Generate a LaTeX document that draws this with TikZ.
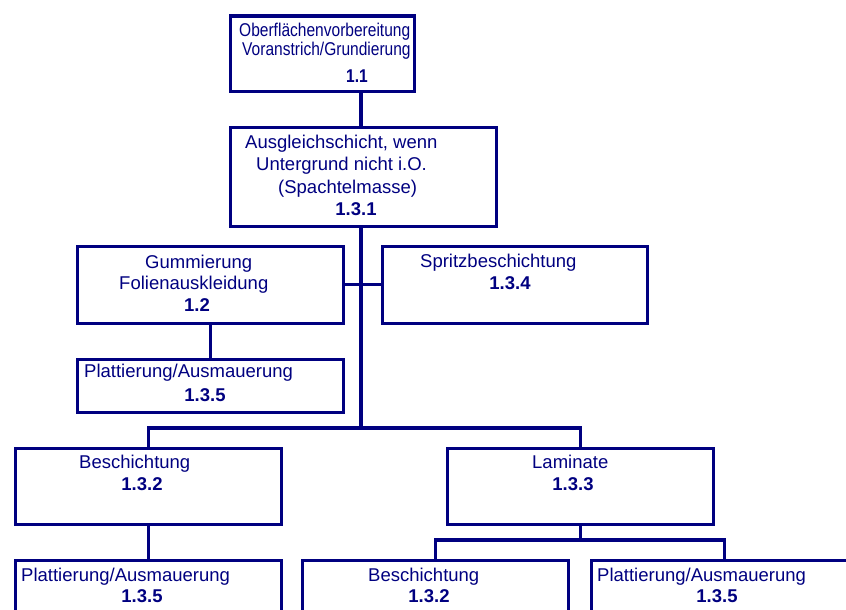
\documentclass[tikz,border=0pt]{standalone}
\usepackage{fontspec}
\setmainfont{Liberation Sans}
\newfontfamily\schmalfont[FakeStretch=0.84]{Liberation Sans}
\usetikzlibrary{positioning, calc}
\definecolor{orgblau}{RGB}{0,0,128}

\begin{document}
\begin{tikzpicture}[
            x=1pt,
            y=-1pt,
            box/.style={
                draw=orgblau,
                rectangle,
                line width=3.4pt,
                inner sep=0pt,
                minimum width=266pt,
                anchor=north west
            },
            linie/.style={
                draw=orgblau,
                line width=3.1pt
            },
            txt/.style={
                text=orgblau,
                inner sep=0pt,
                anchor=base west,
                font=\fontsize{18.5}{22}\selectfont
            },
            nr/.style={
                text=orgblau,
                inner sep=0pt,
                anchor=base,
                font=\fontsize{18.5}{22}\selectfont\bfseries
            }
        ]
            \useasboundingbox (0,0) rectangle (846,610);
            \clip (0,0) rectangle (846,610);

            % Hilfspunkte fuer Stamm und Sammelschienen
            \coordinate (stamm) at (361,0);
            \coordinate (bus) at (0,428);
            \coordinate (unterbus) at (0,540);

            % Kaesten
            \node [box, minimum width=184pt, minimum height=75pt] (b11) at (228.5,14.5) {};
            \node [box, minimum height=99pt] (b131) at (228.5,125.5) {};
            \node [box, minimum height=77pt] (b12) at (75.5,244.5) {};
            \node [box, minimum width=265pt, minimum height=77pt] (b134) at (380.5,244.5) {};
            \node [box, minimum height=53pt] (b135a) at (75.5,357.5) {};
            \node [box, minimum height=76pt] (b132) at (13.5,446.5) {};
            \node [box, minimum height=76pt] (b133) at (445.5,446.5) {};
            \node [box, minimum height=80pt] (b135b) at (13.5,558.5) {};
            \node [box, minimum height=80pt] (b132b) at (300.5,558.5) {};
            \node [box, minimum height=80pt] (b135c) at (589.5,558.5) {};

            % Texte
            \node [txt, font=\fontsize{18.5}{22}\schmalfont] (t11a) at (239,37) {Oberflächenvorbereitung};
            \node [txt, font=\fontsize{18.5}{22}\schmalfont] (t11b) at (242,56) {Voranstrich/Grundierung};
            \node [nr, font=\fontsize{18.5}{22}\schmalfont\bfseries] (n11) at (357,82) {1.1};

            \node [txt] (t131a) at (245,148) {Ausgleichschicht, wenn};
            \node [txt] (t131b) at (256,170) {Untergrund nicht i.O.};
            \node [txt] (t131c) at (278,193) {(Spachtelmasse)};
            \node [nr] (n131) at (356,215) {1.3.1};

            \node [txt] (t12a) at (145,268) {Gummierung};
            \node [txt] (t12b) at (119,289) {Folienauskleidung};
            \node [nr] (n12) at (197,311) {1.2};

            \node [txt] (t134) at (420,267) {Spritzbeschichtung};
            \node [nr] (n134) at (510,289) {1.3.4};

            \node [txt] (t135a) at (84,377) {Plattierung/Ausmauerung};
            \node [nr] (n135a) at (205,401) {1.3.5};

            \node [txt] (t132) at (79,468) {Beschichtung};
            \node [nr] (n132) at (142,490) {1.3.2};

            \node [txt] (t133) at (532,468) {Laminate};
            \node [nr] (n133) at (573,490) {1.3.3};

            \node [txt] (t135b) at (21,581) {Plattierung/Ausmauerung};
            \node [nr] (n135b) at (142,602) {1.3.5};

            \node [txt] (t132b) at (368,581) {Beschichtung};
            \node [nr] (n132b) at (429,602) {1.3.2};

            \node [txt] (t135c) at (597,581) {Plattierung/Ausmauerung};
            \node [nr] (n135c) at (717,602) {1.3.5};

            % Verbindungen
            \draw [linie] (b11.south -| stamm) -- (b131.north -| stamm);
            \draw [linie] (b131.south -| stamm) -- (stamm |- bus);
            \draw [linie] (b12.east) -- (b134.west);
            \draw [linie] (b12.south) -- (b135a.north);
            \draw [linie] (b132.north) -- (b132.north |- bus) -- (b133.north |- bus) -- (b133.north);
            \draw [linie] (b132.south) -- (b135b.north);
            \draw [linie] (b133.south) -- (b133.south |- unterbus);
            \draw [linie] (b132b.north) -- (b132b.north |- unterbus) -- (b135c.north |- unterbus) -- (b135c.north);
        \end{tikzpicture}
\end{document}
